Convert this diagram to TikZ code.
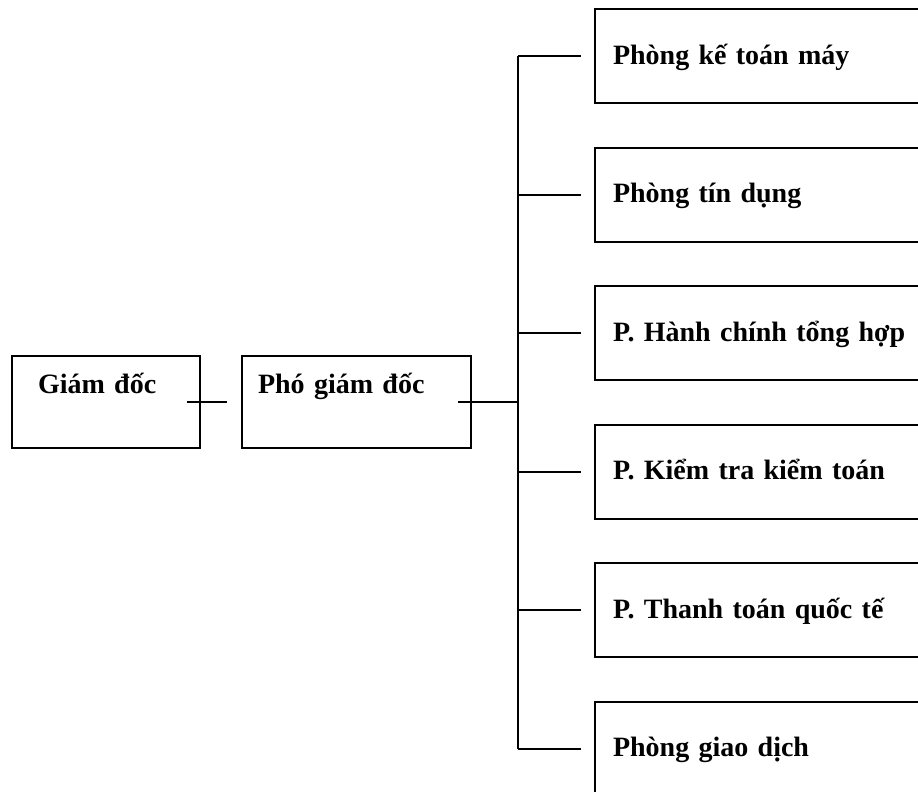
\documentclass[tikz,border=0pt]{standalone}
\usepackage{fontspec}
\setmainfont{Liberation Serif}
\usetikzlibrary{positioning}

\tikzset{
  unit/.style={draw, line width=2pt, anchor=north west, inner ysep=0pt, align=left,
    font=\bfseries\fontsize{28}{30}\selectfont},
  lead/.style={unit, text height=37pt, text depth=55pt},
  dept/.style={unit, draw=none, inner xsep=17pt, text width=340pt, text height=54pt, text depth=38pt},
  link/.style={line width=2pt}
}

\begin{document}
\begin{tikzpicture}[x=1pt, y=-1pt, node distance=44.5pt]
    \useasboundingbox (0,0) rectangle (918,792);
    \coordinate (edge) at (918,0);

    \node [lead, inner xsep=26pt, text width=136pt] (gd) at (11,355) {Giám đốc};
    \node [lead, inner xsep=16pt, text width=197pt, right=40pt of gd.north east, anchor=north west] (pgd) {Phó giám đốc};
    \draw [link] ([xshift=-14pt]gd.east) -- ([xshift=-14pt]pgd.west);

    \node [dept] (ktm) at (595,9) {Phòng kế toán máy};
    \node [dept, below=of ktm] (td) {Phòng tín dụng};
    \node [dept, below=of td] (hc) {P. Hành chính tổng hợp};
    \node [dept, below=of hc] (kt) {P. Kiểm tra kiểm toán};
    \node [dept, below=of kt] (ttqt) {P. Thanh toán quốc tế};
    \node [dept, below=of ttqt] (gdich) {Phòng giao dịch};

    % boxes run off the right edge of the page
    \foreach \d in {ktm,td,hc,kt,ttqt,gdich}
      \draw [link] (\d.north west -| edge) -- (\d.north west) -- (\d.south west) -- (\d.south west -| edge);

    \coordinate [right=46pt of pgd.east] (bus);
    \draw [link] ([xshift=-14pt]pgd.east) -- (bus);
    \draw [link] (bus |- ktm.west) -- (bus |- gdich.west);

    \draw [link] (bus |- ktm.west) -- ([xshift=-14pt]ktm.west);
    \draw [link] (bus |- td.west) -- ([xshift=-14pt]td.west);
    \draw [link] (bus |- hc.west) -- ([xshift=-14pt]hc.west);
    \draw [link] (bus |- kt.west) -- ([xshift=-14pt]kt.west);
    \draw [link] (bus |- ttqt.west) -- ([xshift=-14pt]ttqt.west);
    \draw [link] (bus |- gdich.west) -- ([xshift=-14pt]gdich.west);

\end{tikzpicture}
\end{document}
